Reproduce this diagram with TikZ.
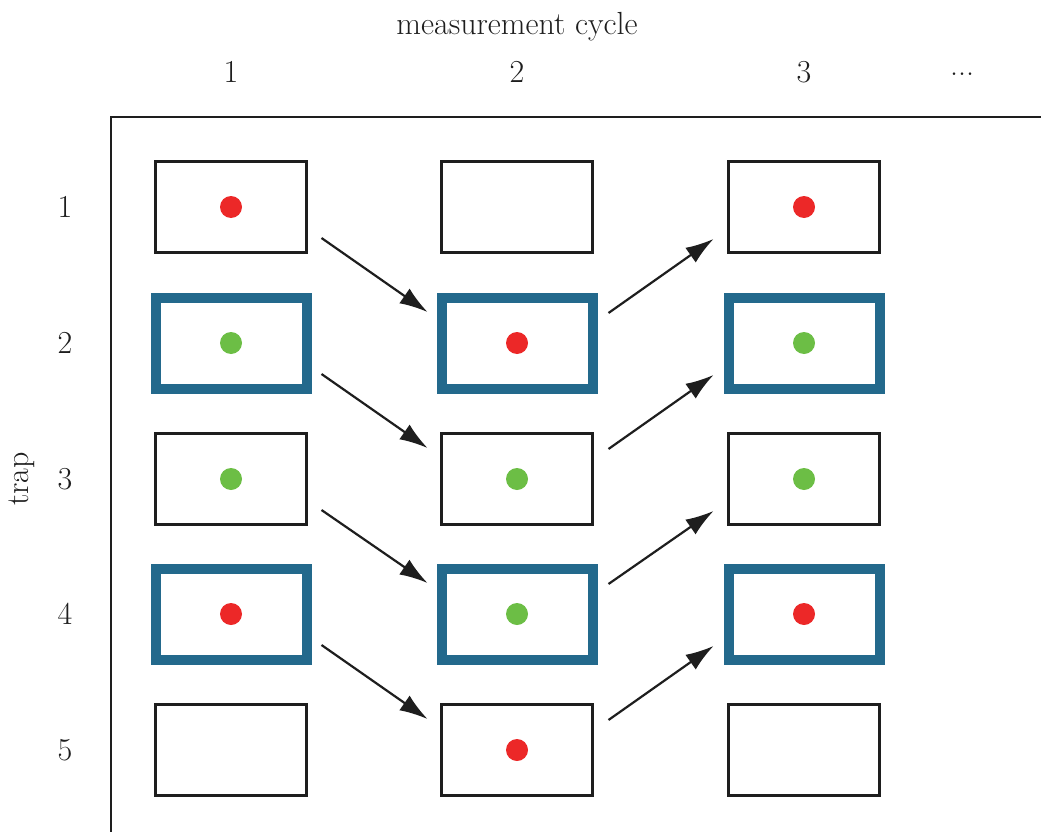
\documentclass[tikz,border=0pt]{standalone}
\usetikzlibrary{arrows.meta}
\definecolor{trapblue}{RGB}{35,105,140}
\definecolor{dotred}{RGB}{236,40,40}
\definecolor{dotgreen}{RGB}{108,190,69}
\definecolor{ink}{RGB}{30,30,30}
\begin{document}
\begin{tikzpicture}[x=1pt,y=-1pt,
  lbl/.style={font=\fontsize{32}{38}\selectfont, text=ink, inner sep=0pt},
  trapbox/.style={draw=ink, line width=2.3pt, minimum width=151pt, minimum height=91pt, inner sep=0pt, outer sep=0pt},
  hlbox/.style={trapbox, draw=trapblue, line width=10pt},
  reddot/.style={circle, fill=dotred, minimum size=22pt, inner sep=0pt},
  greendot/.style={circle, fill=dotgreen, minimum size=22pt, inner sep=0pt},
  arr/.style={draw=ink, line width=2.2pt, -{Latex[length=28pt,width=18pt]}},
  axis/.style={draw=ink, line width=2.3pt}]
\useasboundingbox (0,0) rectangle (1041,832);
% axes
\coordinate (corner) at (111,117);
\coordinate (xend) at (1045,117);
\coordinate (yend) at (111,836);
\draw[axis] (xend) -- (corner) -- (yend);
% labels
\node[lbl] (title) at (517,27) {measurement cycle};
\node[lbl] (c1) at (231,72) {1};
\node[lbl] (c2) at (517,72) {2};
\node[lbl] (c3) at (804,72) {3};
\node[lbl] (cdots) at (962,74) {...};
\node[lbl] (r1) at (65,207) {1};
\node[lbl] (r2) at (65,343) {2};
\node[lbl] (r3) at (65,479) {3};
\node[lbl] (r4) at (65,614) {4};
\node[lbl] (r5) at (65,750) {5};
\node[lbl, rotate=90] (trap) at (22,479) {trap};
% boxes column 1
\node[trapbox] (b11) at (231,207) {};
\node[hlbox]   (b12) at (231,343) {};
\node[trapbox] (b13) at (231,479) {};
\node[hlbox]   (b14) at (231,614) {};
\node[trapbox] (b15) at (231,750) {};
% column 2
\node[trapbox] (b21) at (517,207) {};
\node[hlbox]   (b22) at (517,343) {};
\node[trapbox] (b23) at (517,479) {};
\node[hlbox]   (b24) at (517,614) {};
\node[trapbox] (b25) at (517,750) {};
% column 3
\node[trapbox] (b31) at (804,207) {};
\node[hlbox]   (b32) at (804,343) {};
\node[trapbox] (b33) at (804,479) {};
\node[hlbox]   (b34) at (804,614) {};
\node[trapbox] (b35) at (804,750) {};
% dots
\node[reddot]   (d11) at (b11.center) {};
\node[greendot] (d12) at (b12.center) {};
\node[greendot] (d13) at (b13.center) {};
\node[reddot]   (d14) at (b14.center) {};
\node[reddot]   (d22) at (b22.center) {};
\node[greendot] (d23) at (b23.center) {};
\node[greendot] (d24) at (b24.center) {};
\node[reddot]   (d25) at (b25.center) {};
\node[reddot]   (d31) at (b31.center) {};
\node[greendot] (d32) at (b32.center) {};
\node[greendot] (d33) at (b33.center) {};
\node[reddot]   (d34) at (b34.center) {};
% arrows down (column 1 -> 2)
\foreach \a/\b in {b11/b22, b12/b23, b13/b24, b14/b25}
  \draw[arr] ([shift={(15,31)}]\a.east) -- ([shift={(-14,-31)}]\b.west);
% arrows up (column 2 -> 3)
\foreach \a/\b in {b22/b31, b23/b32, b24/b33, b25/b34}
  \draw[arr] ([shift={(16,-30)}]\a.east) -- ([shift={(-15,32)}]\b.west);
\end{tikzpicture}
\end{document}
